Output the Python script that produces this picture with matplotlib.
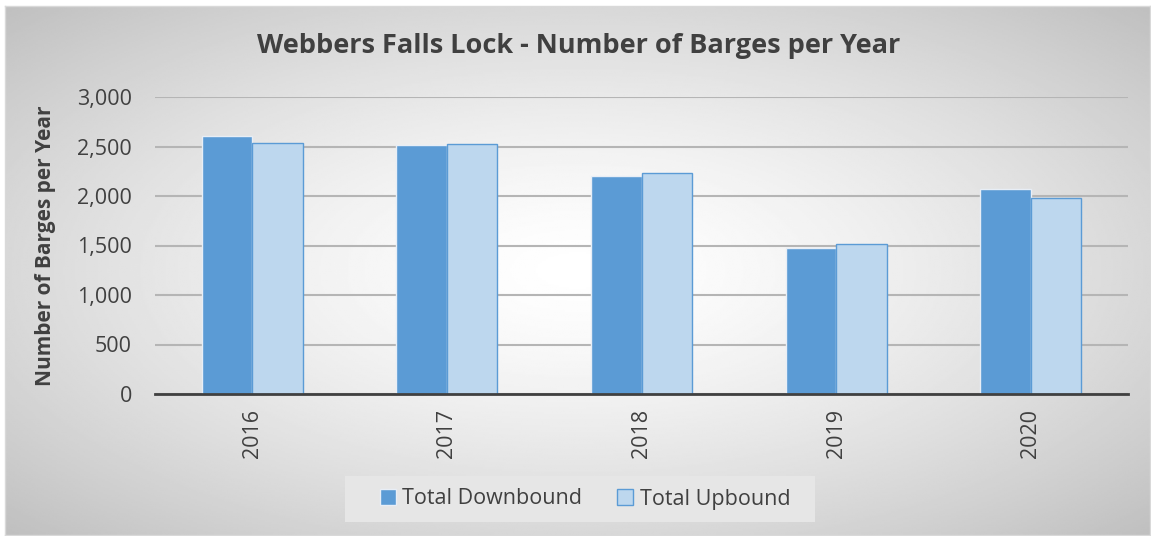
import numpy as np
import matplotlib
matplotlib.use("Agg")
import matplotlib.pyplot as plt
from matplotlib.patches import Rectangle
from matplotlib.ticker import FuncFormatter

years = ["2016", "2017", "2018", "2019", "2020"]
downbound = [2610, 2520, 2200, 1470, 2070]
upbound = [2540, 2530, 2230, 1520, 1975]

plt.rcParams['font.family'] = ['Open Sans', 'DejaVu Sans']

fig = plt.figure(figsize=(11.51, 5.36), dpi=100)

# radial gradient background inside the chart frame
bg = fig.add_axes([5 / 1151, 1 - 535 / 536, 1145 / 1151, 529 / 536], zorder=-10)
yy, xx = np.mgrid[0:1:300j, 0:1:600j]
r = np.sqrt(((xx - 0.5) / 0.5) ** 2 + ((yy - 0.5) / 0.5) ** 2) / np.sqrt(2)
shade = 1.0 - 0.25 * r ** 1.4
bg.imshow(shade, cmap="gray", vmin=0, vmax=1, aspect="auto", extent=[0, 1, 0, 1])
bg.set_xticks([])
bg.set_yticks([])
for s in bg.spines.values():
    s.set_color("#d9d9d9")
    s.set_linewidth(1)

ax = fig.add_axes([155 / 1151, 1 - 394 / 536, (1128 - 155) / 1151, (394 - 97) / 536])
ax.patch.set_alpha(0)

x = np.arange(len(years))
w = 0.26
ax.bar(x - w / 2, downbound, w, color="#5B9BD5", edgecolor="#e8eef6", linewidth=1,
       label="Total Downbound", zorder=3)
ax.bar(x + w / 2, upbound, w, color="#BDD7EE", edgecolor="#5B9BD5", linewidth=1,
       label="Total Upbound", zorder=3)

ax.set_xlim(-0.5, len(years) - 0.5)
ax.set_ylim(0, 3000)
ax.set_yticks(np.arange(0, 3001, 500))
ax.yaxis.set_major_formatter(FuncFormatter(lambda v, p: f"{int(v):,}"))
ax.grid(axis="y", color="#b5b5b5", linewidth=1.5, zorder=0)
ax.set_xticks(x)
ax.set_xticklabels(years, rotation=90)
ax.tick_params(axis="both", length=0, labelsize=15.5, colors="#404040")
ax.tick_params(axis="x", pad=11)
ax.tick_params(axis="y", pad=16.5)
for k in ["top", "right", "left"]:
    ax.spines[k].set_visible(False)
ax.spines["bottom"].set_color("#404040")
ax.spines["bottom"].set_linewidth(2)
ax.spines["bottom"].set_zorder(4)

ax.set_ylabel("Number of Barges per Year", fontsize=15, fontweight="bold", color="#404040", labelpad=15)
fig.text(0.503, 1 - 46 / 536, "Webbers Falls Lock - Number of Barges per Year", ha="center", va="center",
         fontsize=19.5, fontweight="bold", color="#404040")

# legend box
fig.patches.append(Rectangle((345 / 1151, 1 - 522 / 536), 470 / 1151, 46 / 536,
                             transform=fig.transFigure, facecolor="#e6e6e6", edgecolor="none", zorder=1))
leg = fig.legend(loc="center", bbox_to_anchor=(585 / 1151, 1 - 499 / 536), ncol=2, frameon=False,
                 fontsize=15.5, handlelength=0.75, handleheight=0.75, handletextpad=0.3, columnspacing=1.6,
                 borderpad=0.2)
for t in leg.get_texts():
    t.set_color("#404040")

fig.savefig("out.png", dpi=100)
